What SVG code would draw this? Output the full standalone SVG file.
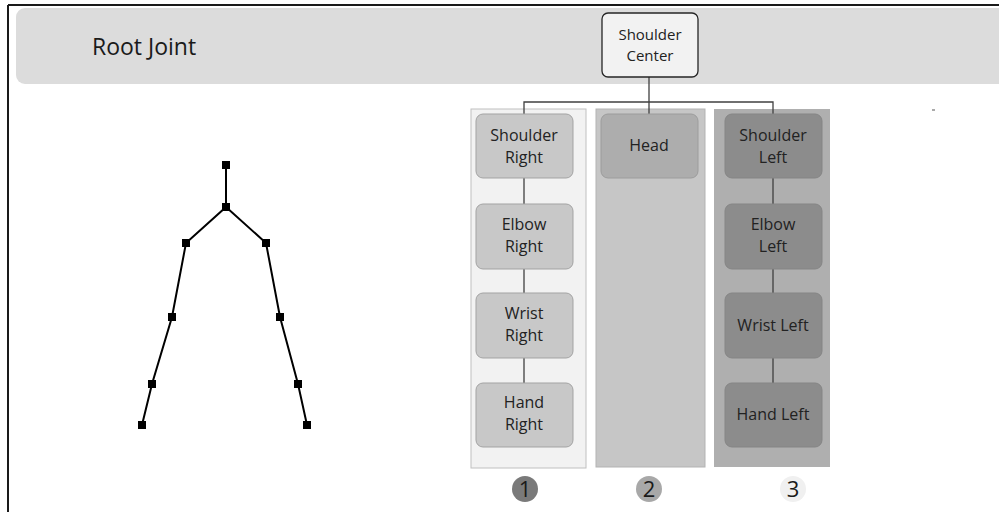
<svg xmlns="http://www.w3.org/2000/svg" width="999" height="512" viewBox="0 0 999 512">
<style>
.t{font-family:"Open Sans","Noto Sans",sans-serif;font-size:16px;fill:#222;text-anchor:middle}
.c{stroke:#404040;stroke-width:1.3;fill:none}
.n1{fill:#c8c8c8;stroke:#a3a3a3;stroke-width:1}
.n3{fill:#8c8c8c;stroke:#858585;stroke-width:1}
.sk{stroke:#000;stroke-width:2;fill:none}
.j{fill:#000}
.num{font-family:"Open Sans","Noto Sans",sans-serif;font-size:22px;fill:#1a1a1a;text-anchor:middle}
</style>
<rect x="0" y="0" width="999" height="512" fill="#fff"/>
<line x1="8" y1="5" x2="999" y2="5" stroke="#1a1a1a" stroke-width="2"/>
<line x1="8" y1="5" x2="8" y2="512" stroke="#1a1a1a" stroke-width="2"/>
<rect x="16" y="8" width="1000" height="76" rx="9" fill="#dcdcdc"/>
<text x="92" y="55" style="font-family:'Open Sans','Noto Sans',sans-serif;font-size:23px;fill:#1a1a1a">Root Joint</text>

<g id="skeleton">
<polyline class="sk" points="226,165 226,207 186,243 172,317 152,384 142,425"/>
<polyline class="sk" points="226,207 266,243 280,317 298,384 307,425"/>
<g class="j">
<rect x="222" y="161" width="8" height="8"/>
<rect x="222" y="203" width="8" height="8"/>
<rect x="182" y="239" width="8" height="8"/>
<rect x="262" y="239" width="8" height="8"/>
<rect x="168" y="313" width="8" height="8"/>
<rect x="276" y="313" width="8" height="8"/>
<rect x="148" y="380" width="8" height="8"/>
<rect x="294" y="380" width="8" height="8"/>
<rect x="138" y="421" width="8" height="8"/>
<rect x="303" y="421" width="8" height="8"/>
</g>
</g>

<g id="columns">
<rect x="471" y="109" width="115" height="359" fill="#f2f2f2" stroke="#c0c0c0" stroke-width="1"/>
<rect x="596" y="109" width="109" height="358" fill="#c6c6c6" stroke="#b3b3b3" stroke-width="1"/>
<rect x="714" y="109" width="116" height="358" fill="#afafaf"/>
</g>

<g id="connectors">
<path class="c" d="M649,77 V102 M524,114 V102 H773 V114 M649,102 V114"/>
<path class="c" d="M524,178 V204 M524,269 V293 M524,358 V383"/>
<path class="c" d="M773,178 V204 M773,269 V293 M773,358 V383"/>
</g>

<g id="shoulder-center">
<rect x="602" y="13" width="96" height="64" rx="6" fill="#f2f2f2" stroke="#262626" stroke-width="1.3"/>
<text class="t" x="650" y="40" style="font-size:15px">Shoulder</text>
<text class="t" x="650" y="61" style="font-size:15px">Center</text>
</g>

<g id="shoulder-right">
<rect class="n1" x="476" y="114" width="97" height="64" rx="7"/>
<text class="t" x="524" y="141">Shoulder</text>
<text class="t" x="524" y="163">Right</text>
</g>
<g id="elbow-right">
<rect class="n1" x="476" y="204" width="97" height="65" rx="7"/>
<text class="t" x="524" y="230">Elbow</text>
<text class="t" x="524" y="252">Right</text>
</g>
<g id="wrist-right">
<rect class="n1" x="476" y="293" width="97" height="65" rx="7"/>
<text class="t" x="524" y="319">Wrist</text>
<text class="t" x="524" y="341">Right</text>
</g>
<g id="hand-right">
<rect class="n1" x="476" y="383" width="97" height="64" rx="7"/>
<text class="t" x="524" y="408">Hand</text>
<text class="t" x="524" y="430">Right</text>
</g>

<g id="head">
<rect x="601" y="114" width="97" height="64" rx="7" fill="#adadad" stroke="#9c9c9c" stroke-width="1"/>
<text class="t" x="649" y="151">Head</text>
</g>

<g id="shoulder-left">
<rect class="n3" x="725" y="114" width="97" height="64" rx="7"/>
<text class="t" x="773" y="141">Shoulder</text>
<text class="t" x="773" y="163">Left</text>
</g>
<g id="elbow-left">
<rect class="n3" x="725" y="204" width="97" height="65" rx="7"/>
<text class="t" x="773" y="230">Elbow</text>
<text class="t" x="773" y="252">Left</text>
</g>
<g id="wrist-left">
<rect class="n3" x="725" y="293" width="97" height="65" rx="7"/>
<text class="t" x="773" y="331">Wrist Left</text>
</g>
<g id="hand-left">
<rect class="n3" x="725" y="383" width="97" height="64" rx="7"/>
<text class="t" x="773" y="420">Hand Left</text>
</g>

<g id="numbers">
<circle cx="525" cy="489" r="13" fill="#7a7a7a"/>
<text class="num" x="525" y="497">1</text>
<circle cx="649" cy="489" r="13" fill="#a8a8a8"/>
<text class="num" x="649" y="497">2</text>
<circle cx="793" cy="489" r="13" fill="#f0f0f0"/>
<text class="num" x="793" y="497">3</text>
</g>
<rect x="932" y="109" width="3" height="2" fill="#aaa"/>
</svg>
